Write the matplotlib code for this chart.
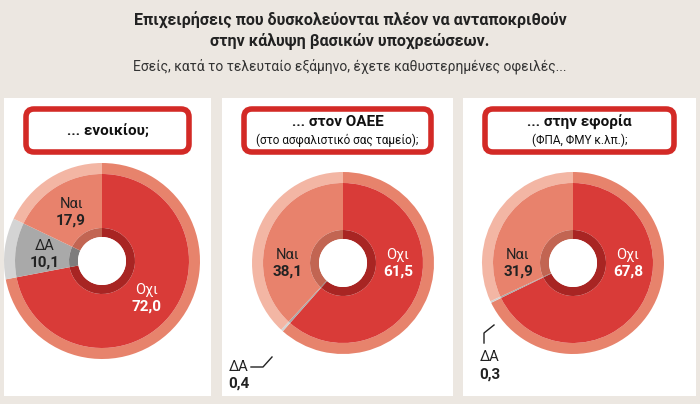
import numpy as np
import matplotlib.pyplot as plt
from matplotlib.patches import FancyBboxPatch, Rectangle

title1 = 'Επιχειρήσεις που δυσκολεύονται πλέον να ανταποκριθούν'
title2 = 'στην κάλυψη βασικών υποχρεώσεων.'
subtitle = 'Εσείς, κατά το τελευταίο εξάμηνο, έχετε καθυστερημένες οφειλές...'

questions = ['... ενοικίου;', '... στον ΟΑΕΕ', '... στην εφορία']
notes = ['', '(στο ασφαλιστικό σας ταμείο);', '(ΦΠΑ, ΦΜΥ κ.λπ.);']
oxi = [72.0, 61.5, 67.8]
da = [10.1, 0.4, 0.3]
nai = [17.9, 38.1, 31.9]

fig = plt.figure(figsize=(7, 4.04), dpi=100)
fig.patch.set_facecolor('#ece7e1')
ax = fig.add_axes([0, 0, 1, 1])

def Y(py):
    return 404 - py

def fmt(v):
    return f'{v:.1f}'.replace('.', ',')

fig.text(0.5, 1 - 20 / 404, title1, ha='center', va='center', fontsize=11.5, fontweight='bold', family='Roboto', color='#222')
fig.text(0.5, 1 - 42 / 404, title2, ha='center', va='center', fontsize=11.5, fontweight='bold', family='Roboto', color='#222')
fig.text(0.5, 1 - 66 / 404, subtitle, ha='center', va='center', fontsize=10, family='Roboto', color='#333')

panels = [(4, 211), (222, 453), (463, 696)]
centers = [(102, 261), (343, 263), (573, 263)]
radii = [98, 91, 91]
main_c = ['#d93b38', '#a9a9a9', '#e8826c']
outer_c = ['#e7836c', '#d4d4d4', '#f3b6a4']
inner_c = ['#a82523', '#7d7d7d', '#c26552']
names = ['Οχι', 'ΔΑ', 'Ναι']
tcol = ['white', '#222', '#222']

for i in range(3):
    x0, x1 = panels[i]
    ax.add_patch(Rectangle((x0, Y(396)), x1 - x0, 298, facecolor='white', edgecolor='none'))
    ax.add_patch(FancyBboxPatch((x0 + 22, Y(152)), x1 - x0 - 44, 43, boxstyle='round,pad=0,rounding_size=8',
                                facecolor='white', edgecolor='#d32a26', linewidth=4))
    xm = (x0 + x1) / 2
    if notes[i]:
        ax.text(xm, Y(122), questions[i], ha='center', va='center', fontsize=11, fontweight='bold', family='Roboto', color='#111')
        ax.text(xm, Y(140), notes[i], ha='center', va='center', fontsize=8.5, family='Roboto', color='#111')
    else:
        ax.text(xm, Y(131), questions[i], ha='center', va='center', fontsize=11, fontweight='bold', family='Roboto', color='#111')

    vals = [oxi[i], da[i], nai[i]]
    cx, cy = centers[i]
    c = (cx, Y(cy))
    r = radii[i]
    ax.pie(vals, colors=outer_c, startangle=90, counterclock=False, center=c, radius=r,
           wedgeprops=dict(width=11, linewidth=0), frame=True)
    ax.pie(vals, colors=main_c, startangle=90, counterclock=False, center=c, radius=r - 11,
           wedgeprops=dict(width=r - 11 - 33, linewidth=0), frame=True)
    ax.pie(vals, colors=inner_c, startangle=90, counterclock=False, center=c, radius=33,
           wedgeprops=dict(width=9, linewidth=0), frame=True)
    ax.add_patch(plt.Circle(c, 24, facecolor='white', edgecolor='none'))

    if i == 0:
        # labels at wedge mid-angles
        cum = np.cumsum([0] + vals)
        for k in range(3):
            mid = np.deg2rad(90 - 3.6 * (cum[k] + cum[k + 1]) / 2)
            lx = cx + 58 * np.cos(mid)
            ly = Y(cy) + 58 * np.sin(mid)
            ax.text(lx, ly + 8, names[k], ha='center', va='center', fontsize=10.5, color=tcol[k], family='Roboto')
            ax.text(lx, ly - 9, fmt(vals[k]), ha='center', va='center', fontsize=11, fontweight='bold', color=tcol[k], family='Roboto')
    else:
        ax.text(cx + 55, Y(cy - 8), 'Οχι', ha='center', va='center', fontsize=10.5, color='white', family='Roboto')
        ax.text(cx + 55, Y(cy + 9), fmt(oxi[i]), ha='center', va='center', fontsize=11, fontweight='bold', color='white', family='Roboto')
        ax.text(cx - 55, Y(cy - 8), 'Ναι', ha='center', va='center', fontsize=10.5, color='#222', family='Roboto')
        ax.text(cx - 55, Y(cy + 9), fmt(nai[i]), ha='center', va='center', fontsize=11, fontweight='bold', color='#222', family='Roboto')

ax.text(239, Y(367), 'ΔΑ', ha='center', va='center', fontsize=10.5, color='#222', family='Roboto')
ax.text(239, Y(384), fmt(da[1]), ha='center', va='center', fontsize=11, fontweight='bold', color='#222', family='Roboto')
ax.plot([251, 263, 272], [Y(367), Y(367), Y(357)], color='#222', lw=1)
ax.text(490, Y(357), 'ΔΑ', ha='center', va='center', fontsize=10.5, color='#222', family='Roboto')
ax.text(490, Y(375), fmt(da[2]), ha='center', va='center', fontsize=11, fontweight='bold', color='#222', family='Roboto')
ax.plot([484, 484, 494], [Y(343), Y(333), Y(325)], color='#222', lw=1)

ax.set_xlim(0, 700)
ax.set_ylim(0, 404)
ax.set_aspect('auto')
ax.axis('off')
fig.savefig('out.png', dpi=100, facecolor=fig.get_facecolor())
